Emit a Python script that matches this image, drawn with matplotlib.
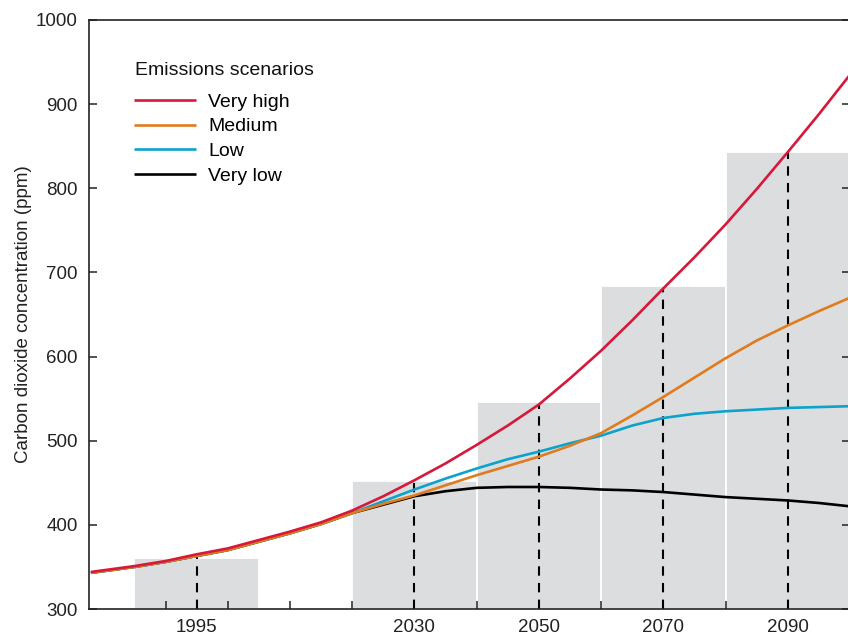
"""
CO2 concentration under four emissions scenarios, with 20-year bars.
"""
import matplotlib
matplotlib.use("Agg")
import matplotlib.pyplot as plt

plt.rcParams["font.family"] = ["Liberation Sans", "DejaVu Sans"]
plt.rcParams["font.size"] = 13.5

years = [1978, 1985, 1990, 1995, 2000, 2005, 2010, 2015, 2020, 2025, 2030,
         2035, 2040, 2045, 2050, 2055, 2060, 2065, 2070, 2075, 2080, 2085,
         2090, 2095, 2100]

very_high = [344, 351, 357, 365, 372, 382, 392, 403, 417, 434, 453,
             473, 495, 518, 543, 574, 607, 643, 681, 718, 757, 799,
             843, 888, 935]
medium = [343, 350, 356, 363, 370, 380, 390, 401, 414, 425, 435,
          447, 459, 470, 481, 494, 509, 530, 552, 575, 598, 619,
          637, 654, 670]
low = [343, 350, 356, 363, 370, 380, 390, 401, 414, 428, 442,
       455, 467, 478, 487, 497, 506, 518, 527, 532, 535, 537,
       539, 540, 541]
very_low = [343, 350, 356, 363, 370, 380, 390, 401, 414, 424, 434,
            440, 444, 445, 445, 444, 442, 441, 439, 436, 433, 431,
            429, 426, 422]

bar_years = [1995, 2030, 2050, 2070, 2090]
bar_tops = [361, 452, 546, 684, 843]
minor_years = [1990, 2000, 2010, 2020, 2040, 2060, 2080]

series = [("Very high", very_high, "#d7183a"),
          ("Medium", medium, "#e07b1e"),
          ("Low", low, "#0ba3cb"),
          ("Very low", very_low, "#000000")]

fig = plt.figure(figsize=(8.48, 6.37), dpi=100)
ax = fig.add_axes([89 / 848, 28 / 637, 761 / 848, 589 / 637])

# 20-year bars around each marked year
ax.bar(bar_years, [t - 300 for t in bar_tops], bottom=300, width=20,
       color="#dcdddf", edgecolor="white", linewidth=1.3, zorder=1)

# dashed drop lines up to the very-high curve
for y in bar_years:
    top = very_high[years.index(y)]
    ax.plot([y, y], [300, top], color="black", lw=1.5, ls=(0, (4.5, 3.5)),
            zorder=2)

handles = {}
for name, vals, col in reversed(series):
    ln, = ax.plot(years, vals, color=col, lw=1.9, zorder=3,
                  solid_capstyle="butt")
    handles[name] = ln

ax.text(46 / 761, 1 - 50 / 589, "Emissions scenarios", transform=ax.transAxes,
        ha="left", va="center", fontsize=14, color="#111111")
ax.legend([handles[s[0]] for s in series], [s[0] for s in series],
          loc="upper left", bbox_to_anchor=(45 / 761, 1 - 73 / 589),
          frameon=False, borderpad=0, borderaxespad=0,
          handlelength=3.2, handletextpad=0.6, labelspacing=0.37,
          fontsize=14)

ax.set_xlim(1977.7, 2100)
ax.set_ylim(300, 1000)
ax.set_xticks(bar_years)
ax.set_xticks(minor_years, minor=True)
ax.set_yticks(range(300, 1001, 100))

ax.tick_params(axis="x", which="major", length=0, pad=7, colors="#222222")
ax.tick_params(axis="x", which="minor", direction="in", length=6,
               width=1.1, color="#222222")
ax.tick_params(axis="y", direction="in", length=6, width=1.1, pad=8,
               right=True, colors="#222222")

for sp in ax.spines.values():
    sp.set_linewidth(1.2)
    sp.set_color("#222222")

ax.set_ylabel("Carbon dioxide concentration (ppm)", labelpad=3,
              color="#222222")

fig.savefig("out.png", dpi=100)
